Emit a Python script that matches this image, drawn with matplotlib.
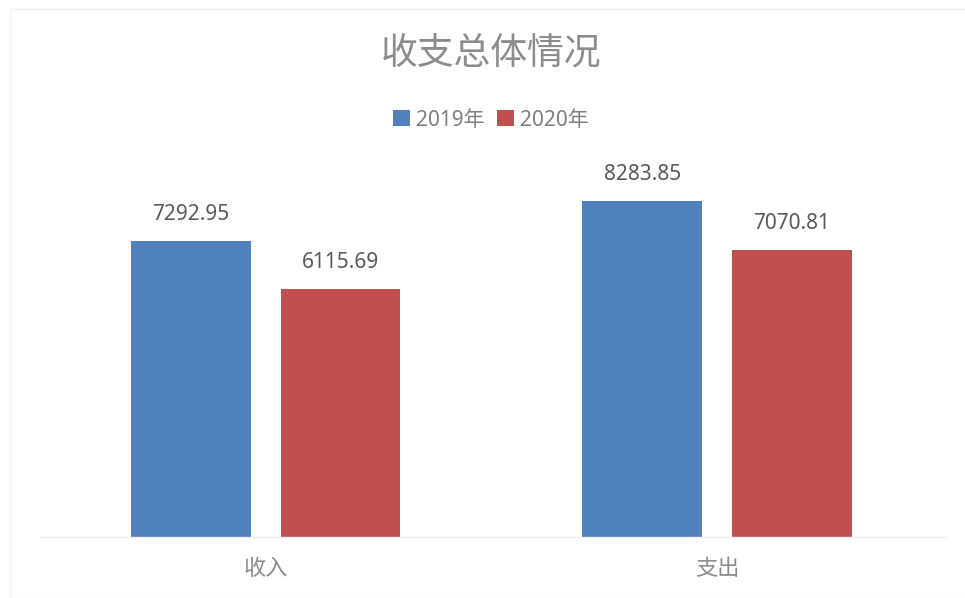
import matplotlib
matplotlib.use('Agg')
import numpy as np
from matplotlib import pyplot as plt
from matplotlib.patches import Rectangle

plt.rcParams['font.family'] = ['Noto Sans', 'Noto Sans CJK SC', 'DejaVu Sans']

categories = ['收入', '支出']
series_names = ['2019年', '2020年']
values_2019 = [7292.95, 8283.85]
values_2020 = [6115.69, 7070.81]
colors = ['#4f81bd', '#c0504d']

fig = plt.figure(figsize=(9.65, 5.98), dpi=100)
ax = fig.add_axes([40/965, 61/598, 905/965, 406/598])

x = np.arange(len(categories))
w = 0.265
off = 0.166
b1 = ax.bar(x - off, values_2019, w, color=colors[0], label=series_names[0])
b2 = ax.bar(x + off, values_2020, w, color=colors[1], label=series_names[1])

for bars in (b1, b2):
    for r in bars:
        ax.annotate('%.2f' % r.get_height(), (r.get_x() + r.get_width()/2, r.get_height()),
                    xytext=(0, 19), textcoords='offset points', ha='center', va='center',
                    fontsize=15, color='#595959')

ax.set_xlim(-0.5, 1.505)
ax.set_ylim(0, 10000)
ax.set_xticks(x)
ax.set_xticklabels(categories, fontsize=16, color='#8c8c8c')
ax.tick_params(axis='x', length=0, pad=16)
ax.set_yticks([])
for s in ['top', 'left', 'right']:
    ax.spines[s].set_visible(False)
ax.spines['bottom'].set_color('#f0f0f0')
ax.spines['bottom'].set_linewidth(1)

fig.text(491/965, 1 - 54/598, '收支总体情况', ha='center', va='center',
         fontsize=26.5, color='#8c8c8c')
fig.legend(loc='center', bbox_to_anchor=(491/965, 1 - 120/598), ncol=2, frameon=False,
           fontsize=15, handlelength=0.8, handleheight=0.8, handletextpad=0.3,
           columnspacing=0.6, labelcolor='#7f7f7f')

fig.patches.append(Rectangle((10/965, 0), 1, 1 - 9/598, transform=fig.transFigure,
                             fill=False, edgecolor='#f2f2f2', linewidth=1))

fig.savefig('out.png', dpi=100)
